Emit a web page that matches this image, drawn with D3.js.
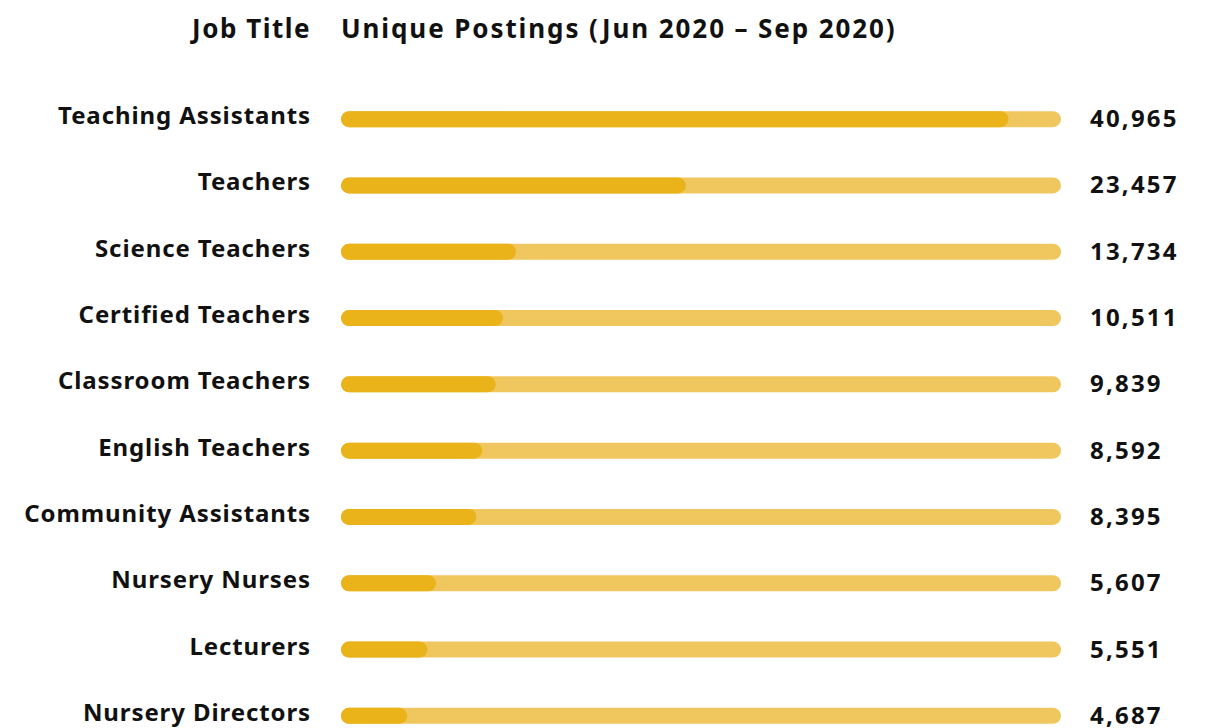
<!DOCTYPE html>
<html>
<head>
<meta charset="utf-8">
<script src="https://cdn.jsdelivr.net/npm/d3@7"></script>
<style>
  body { margin: 0; background: #fff; }
  text { font-family: "Noto Sans", "Open Sans", sans-serif; font-weight: 700; fill: #111; }
</style>
</head>
<body>
<div id="chart"></div>
<script>
// job titles, top to bottom
var jobs = ["Teaching Assistants", "Teachers", "Science Teachers", "Certified Teachers",
  "Classroom Teachers", "English Teachers", "Community Assistants", "Nursery Nurses",
  "Lecturers", "Nursery Directors"];
// unique postings shown at the right
var postings = [40965, 23457, 13734, 10511, 9839, 8592, 8395, 5607, 5551, 4687];
// bar fill, % of the track
var barShare = [92.7, 47.9, 24.3, 22.5, 21.5, 19.6, 18.8, 13.2, 12.0, 9.2];

var w = 1217, h = 728;

var svg = d3.select("#chart").append("svg")
  .attr("width", w)
  .attr("height", h);

var x = d3.scaleLinear().domain([0, 100]).range([341, 1061]);
var y = d3.scaleBand().domain(jobs).range([86, 749]).padding(0);

var barH = 16;

svg.append("text")
  .attr("x", 311).attr("y", 38)
  .attr("text-anchor", "end")
  .style("font-size", "26px")
  .style("letter-spacing", "1.5px")
  .text("Job Title");

svg.append("text")
  .attr("x", 341).attr("y", 38)
  .style("font-size", "26px")
  .style("letter-spacing", "1.9px")
  .text("Unique Postings (Jun 2020 \u2013 Sep 2020)");

var row = svg.selectAll("g.row")
  .data(jobs)
  .enter().append("g")
  .attr("class", "row")
  .attr("transform", d => "translate(0," + (y(d) + y.bandwidth() / 2) + ")");

// track
row.append("rect")
  .attr("x", x(0))
  .attr("y", -barH / 2)
  .attr("width", x(100) - x(0))
  .attr("height", barH)
  .attr("rx", barH / 2)
  .attr("fill", "#f0c75e");

// value
row.append("rect")
  .attr("x", x(0))
  .attr("y", -barH / 2)
  .attr("width", (d, i) => x(barShare[i]) - x(0))
  .attr("height", barH)
  .attr("rx", barH / 2)
  .attr("fill", "#eab31a");

row.append("text")
  .attr("x", 311)
  .attr("y", 5)
  .attr("text-anchor", "end")
  .style("font-size", "24px")
  .style("letter-spacing", "0.9px")
  .text(d => d);

row.append("text")
  .attr("x", 1090)
  .attr("y", 8)
  .style("font-size", "24px")
  .style("letter-spacing", "2.2px")
  .text((d, i) => d3.format(",")(postings[i]));
</script>
</body>
</html>
